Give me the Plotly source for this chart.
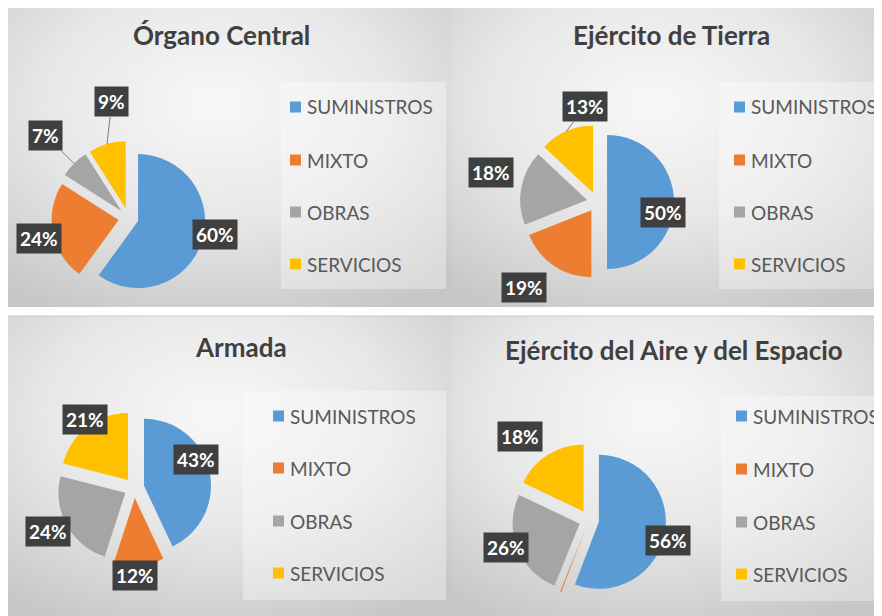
import math
import base64
import plotly.graph_objects as go

# ---------------- data ----------------
categories = ["SUMINISTROS", "MIXTO", "OBRAS", "SERVICIOS"]
titles = ["Órgano Central", "Ejército de Tierra", "Armada", "Ejército del Aire y del Espacio"]
organo_central = [60, 24, 7, 9]
ejercito_tierra = [50, 19, 18, 13]
armada = [43, 12, 24, 21]
ejercito_aire = [56, 0.3, 26, 18]
series = [organo_central, ejercito_tierra, armada, ejercito_aire]

# ---------------- style ----------------
colors = ["#5B9BD5", "#ED7D31", "#A5A5A5", "#FFC000"]
OFF = 8                      # page body margin
W, H = 882 - OFF, 616 - OFF  # figure size
R = 67                       # pie radius in px
PULL = 0.15
FONT = "Lato"

panels = [
    dict(x0=7, x1=452, y0=4, y1=307, cx=128.5, cy=218, tx=221, ty=35,
         lx0=281, lx1=446, ly0=82, ly1=289, sq=290, items=[107, 160, 212, 264]),
    dict(x0=452, x1=882, y0=4, y1=307, cx=597, cy=202, tx=671, ty=35,
         lx0=719, lx1=882, ly0=82, ly1=289, sq=734, items=[107, 160, 212, 264]),
    dict(x0=7, x1=452, y0=316, y1=616, cx=134.2, cy=488, tx=241, ty=347,
         lx0=243, lx1=446, ly0=391, ly1=600, sq=273, items=[416, 468, 521, 573]),
    dict(x0=452, x1=882, y0=316, y1=616, cx=589, cy=520, tx=674, ty=350,
         lx0=721, lx1=882, ly0=396, ly1=601, sq=736, items=[416, 469, 522, 574]),
]
# (distance factor, angle nudge in degrees, leader line) for each data label
label_style = [
    [(1.31, -7, False), (1.37, -2, False), (1.75, 0, True), (1.75, 8, True)],
    [(1.0, 9, False), (1.68, 6, False), (1.64, 5, False), (1.43, 16, True)],
    [(1.01, -12, False), (1.31, 3, False), (1.44, 2, False), (1.26, 2, False)],
    [(1.22, 4, False), (1.3, 0, False), (1.31, 3, False), (1.62, -7, False)],
]


def px(x):
    return (x - OFF) / W


def py(y):
    return 1 - (y - OFF) / H


svg = ('<svg xmlns="http://www.w3.org/2000/svg" width="400" height="300" preserveAspectRatio="none">'
       '<defs><radialGradient id="g" cx="0.47" cy="0.33" r="0.78">'
       '<stop offset="0" stop-color="#f8f8f8"/><stop offset="0.5" stop-color="#e7e7e7"/>'
       '<stop offset="1" stop-color="#c6c6c6"/></radialGradient></defs>'
       '<rect width="400" height="300" fill="url(#g)"/></svg>')
bg_src = "data:image/svg+xml;base64," + base64.b64encode(svg.encode()).decode()

fig = go.Figure()
images, shapes, annotations = [], [], []

for i, (vals, p) in enumerate(zip(series, panels)):
    side = 2 * R * (1 + PULL)
    fig.add_trace(go.Pie(
        values=vals, labels=categories, sort=False, direction="clockwise", rotation=0,
        pull=PULL, textinfo="none", hoverinfo="skip", showlegend=False,
        marker=dict(colors=colors, line=dict(width=0)),
        domain=dict(x=[px(p["cx"] - side / 2), px(p["cx"] + side / 2)],
                    y=[py(p["cy"] + side / 2), py(p["cy"] - side / 2)]),
    ))
    # panel background
    images.append(dict(source=bg_src, xref="paper", yref="paper", x=px(p["x0"]), y=py(p["y0"]),
                       sizex=(p["x1"] - p["x0"]) / W, sizey=(p["y1"] - p["y0"]) / H,
                       sizing="stretch", layer="below", xanchor="left", yanchor="top"))
    shapes.append(dict(type="line", xref="paper", yref="paper", x0=px(p["x0"]), x1=px(p["x1"]),
                       y0=py(p["y0"]), y1=py(p["y0"]), line=dict(color="#c8c8c8", width=1), layer="below"))
    # legend box
    shapes.append(dict(type="rect", xref="paper", yref="paper", x0=px(p["lx0"]), x1=px(p["lx1"]),
                       y0=py(p["ly1"]), y1=py(p["ly0"]), fillcolor="rgba(255,255,255,0.33)",
                       line=dict(width=0), layer="below"))
    for cat, col, yy in zip(categories, colors, p["items"]):
        shapes.append(dict(type="rect", xref="paper", yref="paper", x0=px(p["sq"]), x1=px(p["sq"] + 11),
                           y0=py(yy + 5.5), y1=py(yy - 5.5), fillcolor=col, line=dict(width=0)))
        annotations.append(dict(text=cat, xref="paper", yref="paper", x=px(p["sq"] + 15), y=py(yy),
                                xanchor="left", yanchor="middle", showarrow=False,
                                font=dict(family=FONT, size=19, color="#595959")))
    # title
    annotations.append(dict(text="<b>%s</b>" % titles[i], xref="paper", yref="paper", x=px(p["tx"]),
                            y=py(p["ty"]), xanchor="center", yanchor="middle", showarrow=False,
                            font=dict(family=FONT, size=26, color="#404040")))
    # data labels
    total = sum(vals)
    cum = 0
    for v, (fac, nudge, leader) in zip(vals, label_style[i]):
        mid = (cum + v / 2) / total * 360
        cum += v
        pct = round(v / total * 100)
        if pct < 1:
            continue
        th = math.radians(mid + nudge)
        lx = p["cx"] + fac * R * math.sin(th)
        ly = p["cy"] - fac * R * math.cos(th)
        common = dict(text="<b>%d%%</b>" % pct, xref="paper", yref="paper",
                      font=dict(family=FONT, size=19, color="white"),
                      bgcolor="#3f3f3f", borderpad=3, xanchor="center", yanchor="middle")
        if leader:
            hm = math.radians(mid)
            hx = p["cx"] + (1 + PULL) * R * math.sin(hm)
            hy = p["cy"] - (1 + PULL) * R * math.cos(hm)
            annotations.append(dict(common, x=px(hx), y=py(hy), showarrow=True, arrowhead=0,
                                    arrowwidth=1, arrowcolor="#7f7f7f", ax=lx - hx, ay=ly - hy,
                                    axref="pixel", ayref="pixel", standoff=0))
        else:
            annotations.append(dict(common, x=px(lx), y=py(ly), showarrow=False))

fig.update_layout(width=W, height=H, margin=dict(l=0, r=0, t=0, b=0),
                  paper_bgcolor="white", plot_bgcolor="white",
                  images=images, shapes=shapes, annotations=annotations)
fig.write_html("out.html")
